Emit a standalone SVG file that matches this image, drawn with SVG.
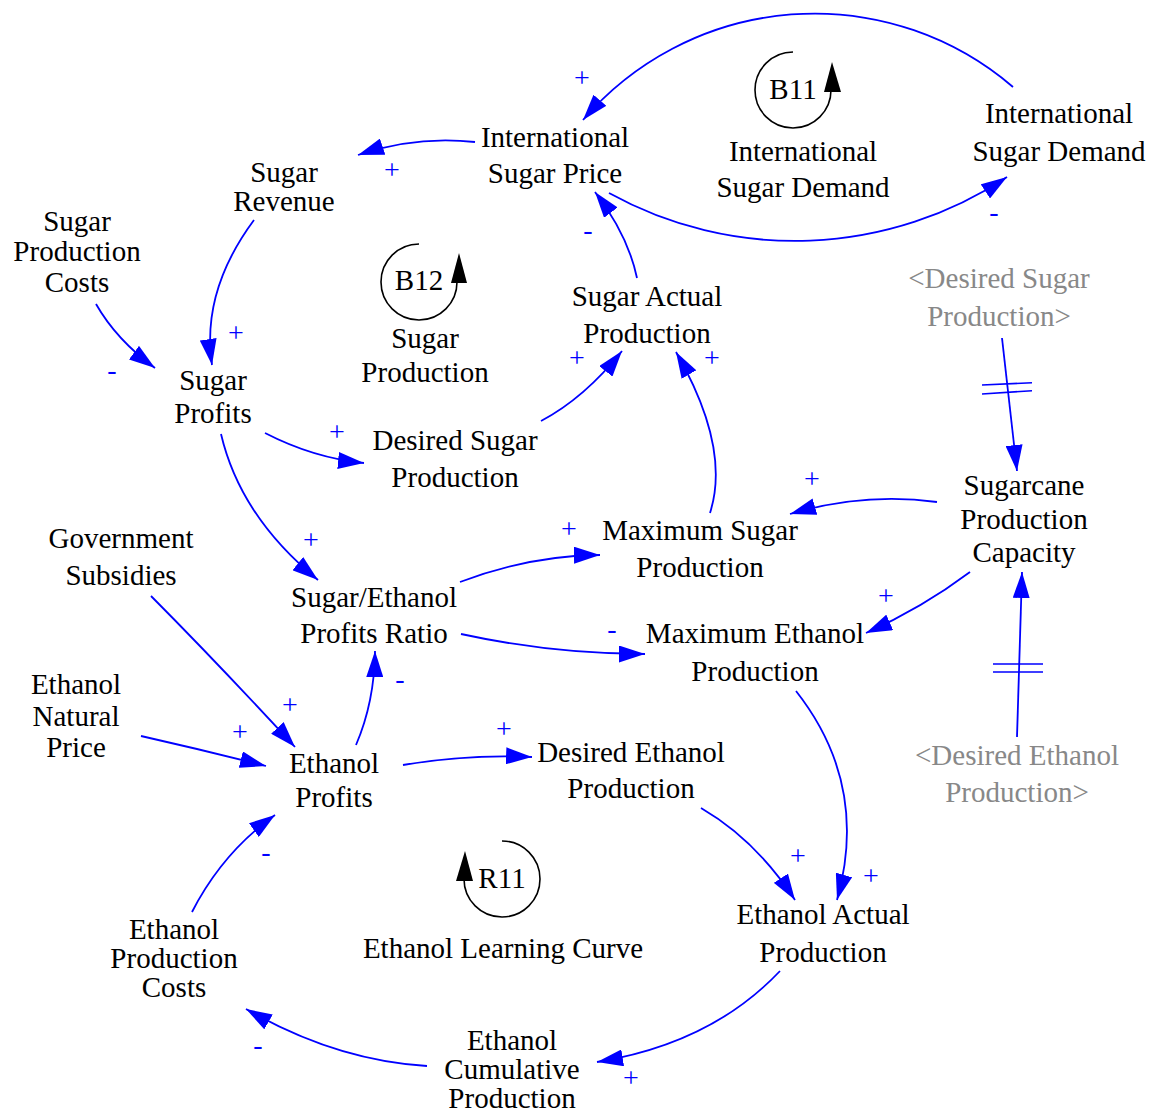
<svg xmlns="http://www.w3.org/2000/svg" width="1152" height="1113" viewBox="0 0 1152 1113">
<style>
.n{font-family:"Liberation Serif","Times New Roman",serif;font-size:29px;fill:#000;text-anchor:middle}
.gr{fill:#888}
.s{font-family:"Liberation Serif","Times New Roman",serif;font-size:28px;fill:#0000FF;text-anchor:middle}
.c{fill:none;stroke:#0000FF;stroke-width:1.8;marker-end:url(#arr)}
.d{fill:none;stroke:#0000FF;stroke-width:1.6}
.lp{fill:none;stroke:#000;stroke-width:1.6}
</style>
<defs>
<marker id="arr" viewBox="0 0 26 17" refX="26" refY="8.5" markerWidth="26" markerHeight="17" orient="auto" markerUnits="userSpaceOnUse"><path d="M0,0 L26,8.5 L0,17 z" fill="#0000FF"/></marker>
</defs>
<rect width="1152" height="1113" fill="#fff"/>
<g id="connectors">
<path class="c" d="M1013,87 A305,305 0 0 0 583,120"/>
<path class="c" d="M609,193 A384,384 0 0 0 1007,177"/>
<path class="c" d="M475,142 Q415.5,135.5 358,155"/>
<path class="c" d="M254,220 Q201,291.5 212,365"/>
<path class="c" d="M96,304 Q116.5,340 155,368"/>
<path class="c" d="M637,278 Q628,235 595,192"/>
<path class="c" d="M265,433 Q313.5,458 364,463"/>
<path class="c" d="M541,421 Q584.5,398 622,351"/>
<path class="c" d="M710,513 Q731,447.5 676,352"/>
<path class="c" d="M937,502 Q864.5,492 790,514"/>
<path class="c" d="M970,572 Q922,608 866,633"/>
<path class="c" d="M1002,338 L1017,471"/>
<path class="d" d="M982,385 L1032,382.7 M982,394 L1032,390.7"/>
<path class="c" d="M1017,737 L1022,572"/>
<path class="d" d="M993,664 L1043,664 M993,672 L1043,672"/>
<path class="c" d="M221,434 Q240.5,517 318,580"/>
<path class="c" d="M460,582 Q530,555.5 600,555"/>
<path class="c" d="M461,634 Q553,654 645,654"/>
<path class="c" d="M356,745 Q374.5,702 375,651"/>
<path class="c" d="M151,596 Q219,664.5 295,747"/>
<path class="c" d="M141,736 Q203,750 266,766"/>
<path class="c" d="M403,765 Q467.5,754 532,757"/>
<path class="c" d="M192,912 Q222.5,852.5 275,815"/>
<path class="c" d="M701,808 Q756,840 795,900"/>
<path class="c" d="M796,691 Q869.5,784.5 837,900"/>
<path class="c" d="M780,971 Q711.5,1043.5 597,1062"/>
<path class="c" d="M427,1066 Q335.5,1060.5 246,1009"/>
<text class="s" x="582" y="87">+</text>
<text class="s" x="994" y="221">-</text>
<text class="s" x="392" y="179">+</text>
<text class="s" x="236" y="342">+</text>
<text class="s" x="112" y="379">-</text>
<text class="s" x="588" y="239">-</text>
<text class="s" x="337" y="441">+</text>
<text class="s" x="577" y="367">+</text>
<text class="s" x="712" y="367">+</text>
<text class="s" x="812" y="488">+</text>
<text class="s" x="886" y="605">+</text>
<text class="s" x="311" y="549">+</text>
<text class="s" x="569" y="538">+</text>
<text class="s" x="612" y="638">-</text>
<text class="s" x="400" y="688">-</text>
<text class="s" x="290" y="714">+</text>
<text class="s" x="240" y="741">+</text>
<text class="s" x="504" y="738">+</text>
<text class="s" x="266" y="861">-</text>
<text class="s" x="798" y="865">+</text>
<text class="s" x="871" y="885">+</text>
<text class="s" x="631" y="1087">+</text>
<text class="s" x="258" y="1054">-</text>
</g>
<g id="loop-B11">
<path class="lp" d="M793,52 A38,38 0 1 0 831,90"/>
<polygon points="832,62 824,92 841,92" fill="#000"/>
<text class="n" x="793" y="99">B11</text>
<text class="n" x="803" y="161">International</text>
<text class="n" x="803" y="197">Sugar Demand</text>
</g>
<g id="loop-B12">
<path class="lp" d="M419,244 A38,38 0 1 0 457,282"/>
<polygon points="459,253 451,283 467,283" fill="#000"/>
<text class="n" x="419" y="290">B12</text>
<text class="n" x="425" y="348">Sugar</text>
<text class="n" x="425" y="382">Production</text>
</g>
<g id="loop-R11">
<path class="lp" d="M502,841 A38,38 0 1 1 464,879"/>
<polygon points="465,851 456,881 473,881" fill="#000"/>
<text class="n" x="502" y="888">R11</text>
<text class="n" x="503" y="958">Ethanol Learning Curve</text>
</g>
<g id="international-sugar-price"><text class="n" x="555" y="147">International</text><text class="n" x="555" y="183">Sugar Price</text></g>
<g id="sugar-revenue"><text class="n" x="284" y="182">Sugar</text><text class="n" x="284" y="211">Revenue</text></g>
<g id="sugar-production-costs"><text class="n" x="77" y="231">Sugar</text><text class="n" x="77" y="261">Production</text><text class="n" x="77" y="292">Costs</text></g>
<g id="international-sugar-demand"><text class="n" x="1059" y="123">International</text><text class="n" x="1059" y="161">Sugar Demand</text></g>
<g id="desired-sugar-production-shadow"><text class="n gr" x="999" y="288">&lt;Desired Sugar</text><text class="n gr" x="999" y="326">Production&gt;</text></g>
<g id="sugar-actual-production"><text class="n" x="647" y="306">Sugar Actual</text><text class="n" x="647" y="343">Production</text></g>
<g id="sugar-profits"><text class="n" x="213" y="390">Sugar</text><text class="n" x="213" y="423">Profits</text></g>
<g id="desired-sugar-production"><text class="n" x="455" y="450">Desired Sugar</text><text class="n" x="455" y="487">Production</text></g>
<g id="maximum-sugar-production"><text class="n" x="700" y="540">Maximum Sugar</text><text class="n" x="700" y="577">Production</text></g>
<g id="sugarcane-production-capacity"><text class="n" x="1024" y="495">Sugarcane</text><text class="n" x="1024" y="529">Production</text><text class="n" x="1024" y="562">Capacity</text></g>
<g id="government-subsidies"><text class="n" x="121" y="548">Government</text><text class="n" x="121" y="585">Subsidies</text></g>
<g id="sugar-ethanol-profits-ratio"><text class="n" x="374" y="607">Sugar/Ethanol</text><text class="n" x="374" y="643">Profits Ratio</text></g>
<g id="maximum-ethanol-production"><text class="n" x="755" y="643">Maximum Ethanol</text><text class="n" x="755" y="681">Production</text></g>
<g id="ethanol-natural-price"><text class="n" x="76" y="694">Ethanol</text><text class="n" x="76" y="726">Natural</text><text class="n" x="76" y="757">Price</text></g>
<g id="ethanol-profits"><text class="n" x="334" y="773">Ethanol</text><text class="n" x="334" y="807">Profits</text></g>
<g id="desired-ethanol-production"><text class="n" x="631" y="762">Desired Ethanol</text><text class="n" x="631" y="798">Production</text></g>
<g id="desired-ethanol-production-shadow"><text class="n gr" x="1017" y="765">&lt;Desired Ethanol</text><text class="n gr" x="1017" y="802">Production&gt;</text></g>
<g id="ethanol-actual-production"><text class="n" x="823" y="924">Ethanol Actual</text><text class="n" x="823" y="962">Production</text></g>
<g id="ethanol-production-costs"><text class="n" x="174" y="939">Ethanol</text><text class="n" x="174" y="968">Production</text><text class="n" x="174" y="997">Costs</text></g>
<g id="ethanol-cumulative-production"><text class="n" x="512" y="1050">Ethanol</text><text class="n" x="512" y="1079">Cumulative</text><text class="n" x="512" y="1108">Production</text></g>
</svg>
